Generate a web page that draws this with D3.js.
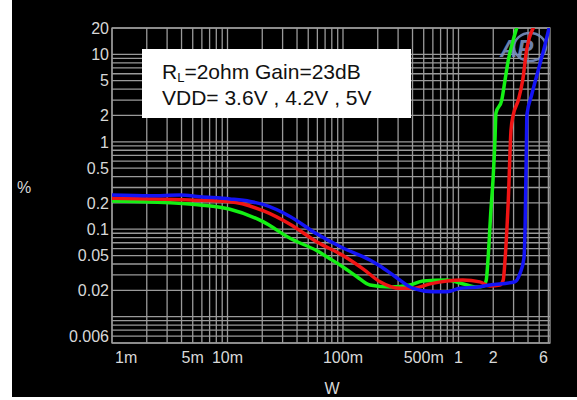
<!DOCTYPE html>
<html>
<head>
<meta charset="utf-8">
<script src="https://cdn.jsdelivr.net/npm/d3@7"></script>
<style>
body { margin: 0; background: #fff; }
</style>
</head>
<body>
<script>
// THD+N (%) vs output power (W), three supply voltages
var power36 = [0.001, 0.00213, 0.0035, 0.00578, 0.0105, 0.0203, 0.0348, 0.0596, 0.0771, 0.1, 0.132, 0.171, 0.255, 0.38, 0.493, 0.795, 1.03, 1.45, 1.63, 1.74, 1.8, 1.91, 1.99, 2.07, 2.11, 2.37, 2.53, 2.7, 2.98, 3.19];
var thd36   = [0.21, 0.205, 0.199, 0.189, 0.169, 0.122, 0.0787, 0.0566, 0.046, 0.037, 0.0286, 0.023, 0.0218, 0.023, 0.0256, 0.0262, 0.0243, 0.0218, 0.0222, 0.0262, 0.0445, 0.166, 0.365, 1.05, 2.13, 3.0, 5.08, 8.61, 14.6, 20];

var power42 = [0.001, 0.00213, 0.00473, 0.0105, 0.0203, 0.0348, 0.0596, 0.1, 0.15, 0.209, 0.312, 0.404, 0.567, 0.795, 1.09, 1.53, 1.87, 2.28, 2.44, 2.53, 2.7, 2.85, 2.98, 3.3, 3.6, 3.89, 4.44];
var thd42   = [0.226, 0.222, 0.216, 0.206, 0.163, 0.114, 0.0714, 0.05, 0.035, 0.0251, 0.0211, 0.0211, 0.0237, 0.0256, 0.0262, 0.025, 0.0224, 0.023, 0.0262, 0.0445, 0.216, 1.36, 2.02, 3.0, 5.08, 11.2, 20];

var power50 = [0.001, 0.00213, 0.00388, 0.00578, 0.0105, 0.0157, 0.0203, 0.0348, 0.0596, 0.1, 0.171, 0.209, 0.28, 0.404, 0.601, 0.795, 1.03, 1.53, 1.87, 3.08, 3.41, 3.69, 3.77, 3.89, 3.91, 4.3, 4.91, 5.61, 6.08];
var thd50   = [0.246, 0.241, 0.246, 0.235, 0.222, 0.208, 0.192, 0.14, 0.088, 0.061, 0.0445, 0.038, 0.029, 0.0211, 0.0193, 0.0193, 0.0211, 0.022, 0.023, 0.0251, 0.0313, 0.0469, 0.098, 1.36, 2.02, 3.43, 6.62, 12.8, 20];

var seriesColors = ["#14f014", "#f01414", "#1414f5"];

var xTickVals   = [0.001, 0.005, 0.01, 0.1, 0.5, 1, 2, 6];
var xTickLabels = ["1m", "5m", "10m", "100m", "500m", "1", "2", "6"];
var yTickVals   = [20, 10, 5, 2, 1, 0.5, 0.2, 0.1, 0.05, 0.02, 0.006];
var yTickLabels = ["20", "10", "5", "2", "1", "0.5", "0.2", "0.1", "0.05", "0.02", "0.006"];

var legendLine1 = ["R", "L", "=2ohm Gain=23dB"];
var legendLine2 = "VDD= 3.6V , 4.2V , 5V";

var plotL = 112, plotR = 550, plotT = 28, plotB = 343;
var font = "'Liberation Sans', Arial, sans-serif";

var svg = d3.select("body").append("svg")
    .attr("width", 577)
    .attr("height", 400);

svg.append("rect")
    .attr("x", 12).attr("y", 0)
    .attr("width", 565).attr("height", 397)
    .attr("fill", "#000");

var x = d3.scaleLog().domain([0.001, 6.2]).range([plotL, plotR]);
var y = d3.scaleLog().domain([0.005, 20]).range([plotB, plotT]);

// minor grid values 1..9 per decade
var xGrid = [], yGrid = [];
[0.001, 0.01, 0.1, 1].forEach(function(d){
  for (var k = 1; k < 10; k++) if (d * k <= 6.2) xGrid.push(d * k);
});
[0.001, 0.01, 0.1, 1, 10].forEach(function(d){
  for (var k = 1; k < 10; k++) if (d * k >= 0.005 && d * k <= 20) yGrid.push(d * k);
});

var grid = svg.append("g")
    .attr("stroke", "#9a9a9a")
    .attr("stroke-width", 1.3);

grid.selectAll("line.v")
    .data(xGrid)
    .enter().append("line")
    .attr("class", "v")
    .attr("x1", function(d){return x(d);})
    .attr("x2", function(d){return x(d);})
    .attr("y1", plotT).attr("y2", plotB);

grid.selectAll("line.h")
    .data(yGrid)
    .enter().append("line")
    .attr("class", "h")
    .attr("x1", plotL).attr("x2", plotR)
    .attr("y1", function(d){return y(d);})
    .attr("y2", function(d){return y(d);});

grid.append("rect")
    .attr("x", plotL).attr("y", plotT)
    .attr("width", plotR - plotL).attr("height", plotB - plotT)
    .attr("fill", "none");

// AP logo
var logo = svg.append("g").attr("fill", "none").attr("stroke", "#7890c0").attr("opacity", 0.9);
logo.append("ellipse")
    .attr("cx", 530).attr("cy", 47).attr("rx", 16).attr("ry", 14)
    .attr("stroke-width", 2.5);
logo.append("text")
    .attr("x", 500).attr("y", 57)
    .attr("font-family", font)
    .attr("font-size", 24)
    .attr("font-weight", "bold")
    .attr("font-style", "italic")
    .attr("stroke", "none")
    .attr("fill", "#7890c0")
    .text("AP");

// tick labels
svg.selectAll("text.ytick")
    .data(yTickVals)
    .enter().append("text")
    .attr("class", "ytick")
    .attr("x", 109)
    .attr("y", function(d){return y(d);})
    .attr("dy", "0.36em")
    .attr("text-anchor", "end")
    .attr("font-family", font)
    .attr("font-size", 16)
    .attr("fill", "#d8d8d8")
    .text(function(d, i){return yTickLabels[i];});

svg.selectAll("text.xtick")
    .data(xTickVals)
    .enter().append("text")
    .attr("class", "xtick")
    .attr("x", function(d, i){
      if (i == 0) return x(d) + 3;
      if (i == xTickVals.length - 1) return plotR - 2;
      return x(d);
    })
    .attr("y", 363)
    .attr("text-anchor", function(d, i){
      if (i == 0) return "start";
      if (i == xTickVals.length - 1) return "end";
      return "middle";
    })
    .attr("font-family", font)
    .attr("font-size", 16)
    .attr("fill", "#d8d8d8")
    .text(function(d, i){return xTickLabels[i];});

svg.append("text")
    .attr("x", 24).attr("y", 193)
    .attr("text-anchor", "middle")
    .attr("font-family", font).attr("font-size", 16)
    .attr("fill", "#d8d8d8")
    .text("%");

svg.append("text")
    .attr("x", 332).attr("y", 394)
    .attr("text-anchor", "middle")
    .attr("font-family", font).attr("font-size", 16)
    .attr("fill", "#d8d8d8")
    .text("W");

// legend box
svg.append("rect")
    .attr("x", 142).attr("y", 49)
    .attr("width", 269).attr("height", 69)
    .attr("fill", "#fff");

var t1 = svg.append("text")
    .attr("x", 162).attr("y", 79)
    .attr("font-family", font).attr("font-size", 21)
    .attr("fill", "#111");
t1.append("tspan").text(legendLine1[0]);
t1.append("tspan").attr("font-size", 13).attr("dy", 3).text(legendLine1[1]);
t1.append("tspan").attr("dy", -3).text(legendLine1[2]);

svg.append("text")
    .attr("x", 162).attr("y", 105)
    .attr("font-family", font).attr("font-size", 21)
    .attr("fill", "#111")
    .text(legendLine2);

// curves
svg.append("clipPath").attr("id", "plot")
    .append("rect")
    .attr("x", plotL).attr("y", plotT)
    .attr("width", plotR - plotL).attr("height", plotB - plotT);

var line = d3.line()
    .x(function(d){return x(d[0]);})
    .y(function(d){return y(d[1]);})
    .curve(d3.curveMonotoneX);

var series = [
  d3.zip(power36, thd36),
  d3.zip(power42, thd42),
  d3.zip(power50, thd50)
];

svg.append("g").attr("clip-path", "url(#plot)")
    .selectAll("path")
    .data(series)
    .enter().append("path")
    .attr("d", line)
    .attr("fill", "none")
    .attr("stroke", function(d, i){return seriesColors[i];})
    .attr("stroke-width", 3.5)
    .attr("stroke-linejoin", "round")
    .attr("stroke-linecap", "round");
</script>
</body>
</html>
